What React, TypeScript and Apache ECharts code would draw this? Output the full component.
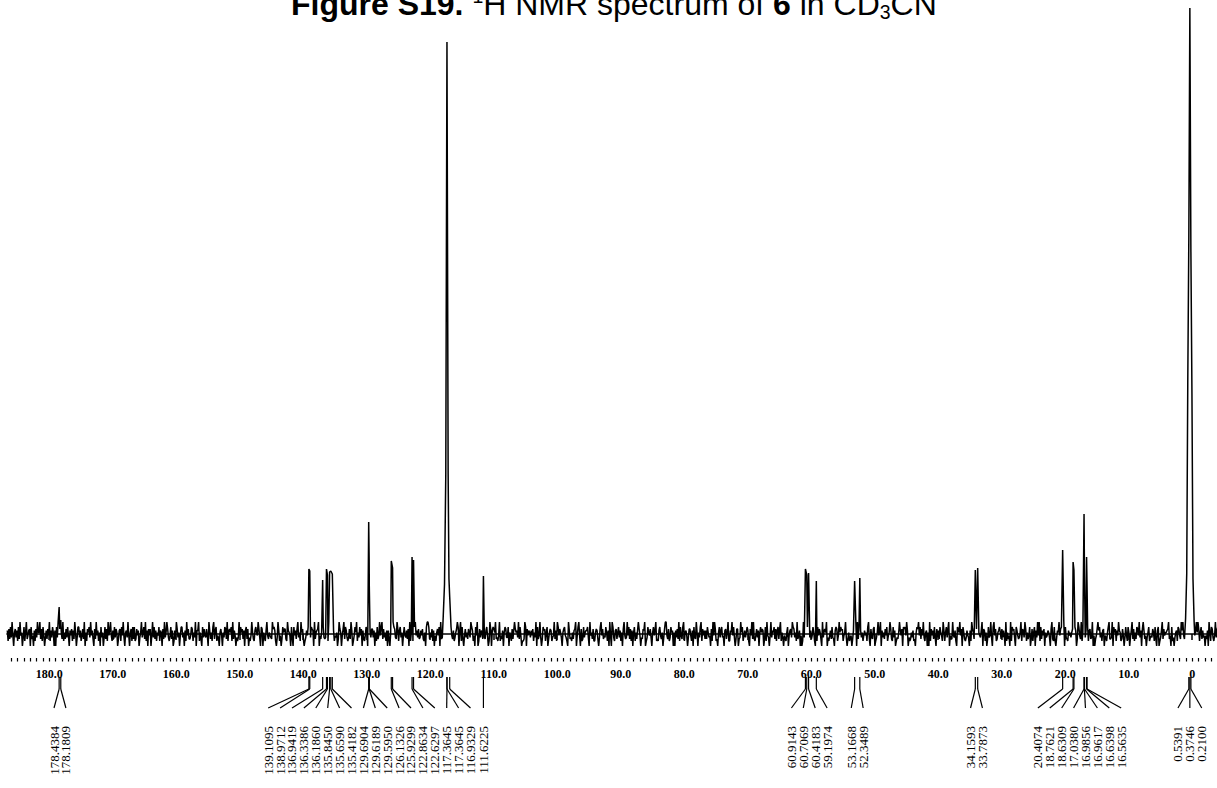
import React, { useEffect, useRef } from "react";
import * as echarts from "echarts";

// Labelled peaks (ppm) and their heights above the baseline (chart units)
const peakPpm = [
  178.4384, 178.1809, 139.1095, 138.9712, 136.9419, 136.3386, 136.186, 135.845, 135.659, 135.4182,
  129.6904, 129.6189, 129.595, 126.1326, 125.9299, 122.8634, 122.6297, 117.3645, 117.3645, 116.9329,
  111.6225, 60.9143, 60.7069, 60.4183, 59.1974, 53.1668, 52.3489, 34.1593, 33.7873, 20.4074,
  18.7621, 18.6309, 17.038, 16.9856, 16.9617, 16.6398, 16.5635, 0.5391, 0.3746, 0.21,
];
const peakHeight = [
  27, 14, 65, 63, 54, 65, 59, 62, 63, 60,
  112, 74, 47, 73, 66, 77, 74, 592, 592, 37,
  58, 65, 59, 61, 53, 53, 56, 64, 66, 84,
  72, 64, 120, 73, 57, 77, 47, 394, 626, 382,
];

// Unlabelled shape of the solvent CN line and the outer CD3 septet lines
const solventShapePpm = [117.95, 117.75, 117.55, 117.18, 117.05, 116.8];
const solventShapeHeight = [18, 50, 160, 160, 55, 18];
const septetOuterPpm = [1.05, 0.868, 0.7036, 0.0455, -0.119, -0.3];
const septetOuterHeight = [15, 60, 250, 240, 55, 12];

// Baseline noise, read as level codes 0-9 along the spectrum
const noiseStartPpm = 186.6;
const noiseStepPpm = 0.125;
const noiseLevels = [-12, -7, -5, -3.5, -1.5, 1.5, 3.5, 5, 7, 12];
const noiseReadings = (
  "6172839405736182945038159246708240617395592718403627491638506083917452" +
  "9152738406471629503883614729051758394620729461508350382719469416283750" +
  "2671849305639405718281274603593582916074704938261548165072935973148260" +
  "1629735048835061947224871539066915208374374096251892681430574053872916" +
  "7581926403139485726068270314952168549730870531694254329786103961402857" +
  "7219654083084627935195720136484138760925679042518323851967408614350297" +
  "5047928631372960148591538470621486092537736051824948927351606205149873" +
  "2971683504843627091551089463723647215089982537160415748092367039462518" +
  "4261357980691820473527539861408490173652532684019706875923149142605873" +
  "3805417269756392840112980746536471539082493028671580257613492619847530" +
  "5784310962315267904894071283566830945271157620389472438516094098316725" +
  "8361507942" +
  "3948271605815269740327690138547305846912168425037994271385605063729184" +
  "2891564037741608329505389174626285340719497120583683406725911659483027" +
  "7023958146358610749292147360585760281943049365827168279153042158046739" +
  "8735192460401936758293624851071847520936759031462832068714958671459302" +
  "5134026879092876351464518920732780135946906352748145972183601325964708" +
  "7849603125361205879482749315605091746283073628541961583790422943610875" +
  "9470852136430619752817825436907615028349308947125685273640915240918673" +
  "0864235917639715248027158063949182647053465307921810365947827908321645" +
  "3571486029842915073658167239040247968351670431589223908571649651274038" +
  "4185036927152874936079624035813437518206801369274556792408130356187429" +
  "6942573108208731469597158263404260951873149368705278310492563574216089" +
  "8106592437"
).split("").map(Number);

// Ranges covered by the broad solvent lines (no separate noise readings there)
const solventRanges = [
  [118.0, 116.75],
  [1.1, -0.35],
];

// Axis ticks
const majorTicks = [180, 170, 160, 150, 140, 130, 120, 110, 100, 90, 80, 70, 60, 50, 40, 30, 20, 10, 0];
const axisMinPpm = -3.9;
const axisMaxPpm = 186.65;

const titleText =
  "{b|Figure S19.}{n| }{sup|1}{n|H NMR spectrum of }{b|6}{n| in CD}{sub|3}{n|CN}";

export default function App() {
  const ref = useRef<HTMLDivElement>(null);

  useEffect(() => {
    document.body.style.margin = "0";
    if (!ref.current) return;
    const chart = echarts.init(ref.current, undefined, { renderer: "svg" });

    const peakPts: [number, number][] = [
      ...peakPpm.map((p, i) => [p, peakHeight[i]] as [number, number]),
      ...solventShapePpm.map((p, i) => [p, solventShapeHeight[i]] as [number, number]),
      ...septetOuterPpm.map((p, i) => [p, septetOuterHeight[i]] as [number, number]),
    ];
    const pts: [number, number][] = [];
    noiseReadings.forEach((d, i) => {
      const ppm = noiseStartPpm - i * noiseStepPpm;
      if (peakPts.some(([p]) => Math.abs(p - ppm) < 0.07)) return;
      if (solventRanges.some(([hi, lo]) => ppm < hi && ppm > lo)) return;
      pts.push([ppm, noiseLevels[d]]);
    });
    pts.push(...peakPts);
    pts.sort((a, b) => b[0] - a[0]);

    const minorTicks: number[] = [];
    for (let v = -3; v <= 186; v++) minorTicks.push(v);

    const labelGap = 11.9;

    const renderLabels = (_params: any, api: any) => {
      const axisY = api.coord([0, -24])[1];
      const xs = peakPpm.map((p) => api.coord([p, 0])[0]);
      const order = xs.map((_x, i) => i).sort((a, b) => xs[a] - xs[b]);
      const clusters: { idx: number[]; start: number }[] = [];
      for (const i of order) {
        clusters.push({ idx: [i], start: xs[i] });
        while (clusters.length > 1) {
          const c = clusters[clusters.length - 1];
          const p = clusters[clusters.length - 2];
          const pEnd = p.start + (p.idx.length - 1) * labelGap;
          if (pEnd + labelGap <= c.start) break;
          const idx = p.idx.concat(c.idx);
          const mean = idx.reduce((s, k) => s + xs[k], 0) / idx.length;
          clusters.splice(clusters.length - 2, 2, { idx, start: mean - ((idx.length - 1) * labelGap) / 2 });
        }
      }
      const lx: number[] = new Array(xs.length);
      clusters.forEach((c) => c.idx.forEach((k, j) => (lx[k] = c.start + j * labelGap)));
      const stubTop = axisY + 19;
      const stubBottom = axisY + 31;
      const diagBottom = axisY + 50;
      const textTop = axisY + 68;
      const children: any[] = [];
      peakPpm.forEach((p, i) => {
        children.push({
          type: "line",
          shape: { x1: xs[i], y1: stubTop, x2: xs[i], y2: stubBottom },
          style: { stroke: "#000", lineWidth: 1.2 },
        });
        children.push({
          type: "line",
          shape: { x1: xs[i], y1: stubBottom, x2: lx[i], y2: diagBottom },
          style: { stroke: "#000", lineWidth: 1.2 },
        });
        children.push({
          type: "text",
          x: lx[i],
          y: textTop,
          rotation: Math.PI / 2,
          style: {
            text: p.toFixed(4),
            fill: "#000",
            font: '13px "Liberation Serif", "Times New Roman", serif',
            align: "right",
            verticalAlign: "middle",
          },
        });
      });
      return { type: "group", children };
    };

    chart.setOption({
      animation: false,
      backgroundColor: "#fff",
      grid: { left: 7, top: 0, width: 1210, height: 658, containLabel: false },
      xAxis: [
        {
          type: "value",
          inverse: true,
          min: axisMinPpm,
          max: axisMaxPpm,
          position: "bottom",
          axisLine: { show: true, lineStyle: { color: "#000", width: 1.6 } },
          axisTick: { show: true, customValues: majorTicks, length: 6, lineStyle: { color: "#000", width: 1.5 } },
          axisLabel: {
            show: true,
            customValues: majorTicks,
            margin: 10,
            color: "#000",
            fontFamily: '"Liberation Serif", "Times New Roman", serif',
            fontWeight: "bold",
            fontSize: 12,
            formatter: (v: number) => (v === 0 ? "0" : v.toFixed(1)),
          },
          splitLine: { show: false },
        },
        {
          type: "value",
          inverse: true,
          min: axisMinPpm,
          max: axisMaxPpm,
          position: "bottom",
          axisLine: { show: false },
          axisTick: { show: true, customValues: minorTicks, length: 3.5, lineStyle: { color: "#000", width: 1.2 } },
          axisLabel: { show: false },
          splitLine: { show: false },
        },
      ],
      yAxis: { type: "value", min: -24, max: 634, show: false, splitLine: { show: false } },
      graphic: {
        elements: [
          {
            type: "text",
            x: 291,
            y: -14,
            style: {
              text: titleText,
              align: "left",
              verticalAlign: "top",
              fill: "#000",
              rich: {
                b: { fontFamily: '"Liberation Sans", Arial, sans-serif', fontWeight: "bold", fontSize: 32, lineHeight: 36, fill: "#000" },
                n: { fontFamily: '"Liberation Sans", Arial, sans-serif', fontSize: 32, lineHeight: 36, fill: "#000" },
                sup: { fontFamily: '"Liberation Sans", Arial, sans-serif', fontSize: 19.5, lineHeight: 28, verticalAlign: "top", fill: "#000" },
                sub: { fontFamily: '"Liberation Sans", Arial, sans-serif', fontSize: 19.5, lineHeight: 13, verticalAlign: "bottom", fill: "#000" },
              },
            },
          },
        ],
      },
      series: [
        {
          type: "line",
          data: pts,
          showSymbol: false,
          symbol: "none",
          lineStyle: { color: "#000", width: 1.5 },
          silent: true,
          clip: true,
        },
        {
          type: "custom",
          data: [[0, 0]],
          renderItem: renderLabels,
          clip: false,
          silent: true,
        },
      ],
    });

    return () => chart.dispose();
  }, []);

  return <div ref={ref} style={{ width: 1217, height: 788, background: "#fff" }} />;
}
